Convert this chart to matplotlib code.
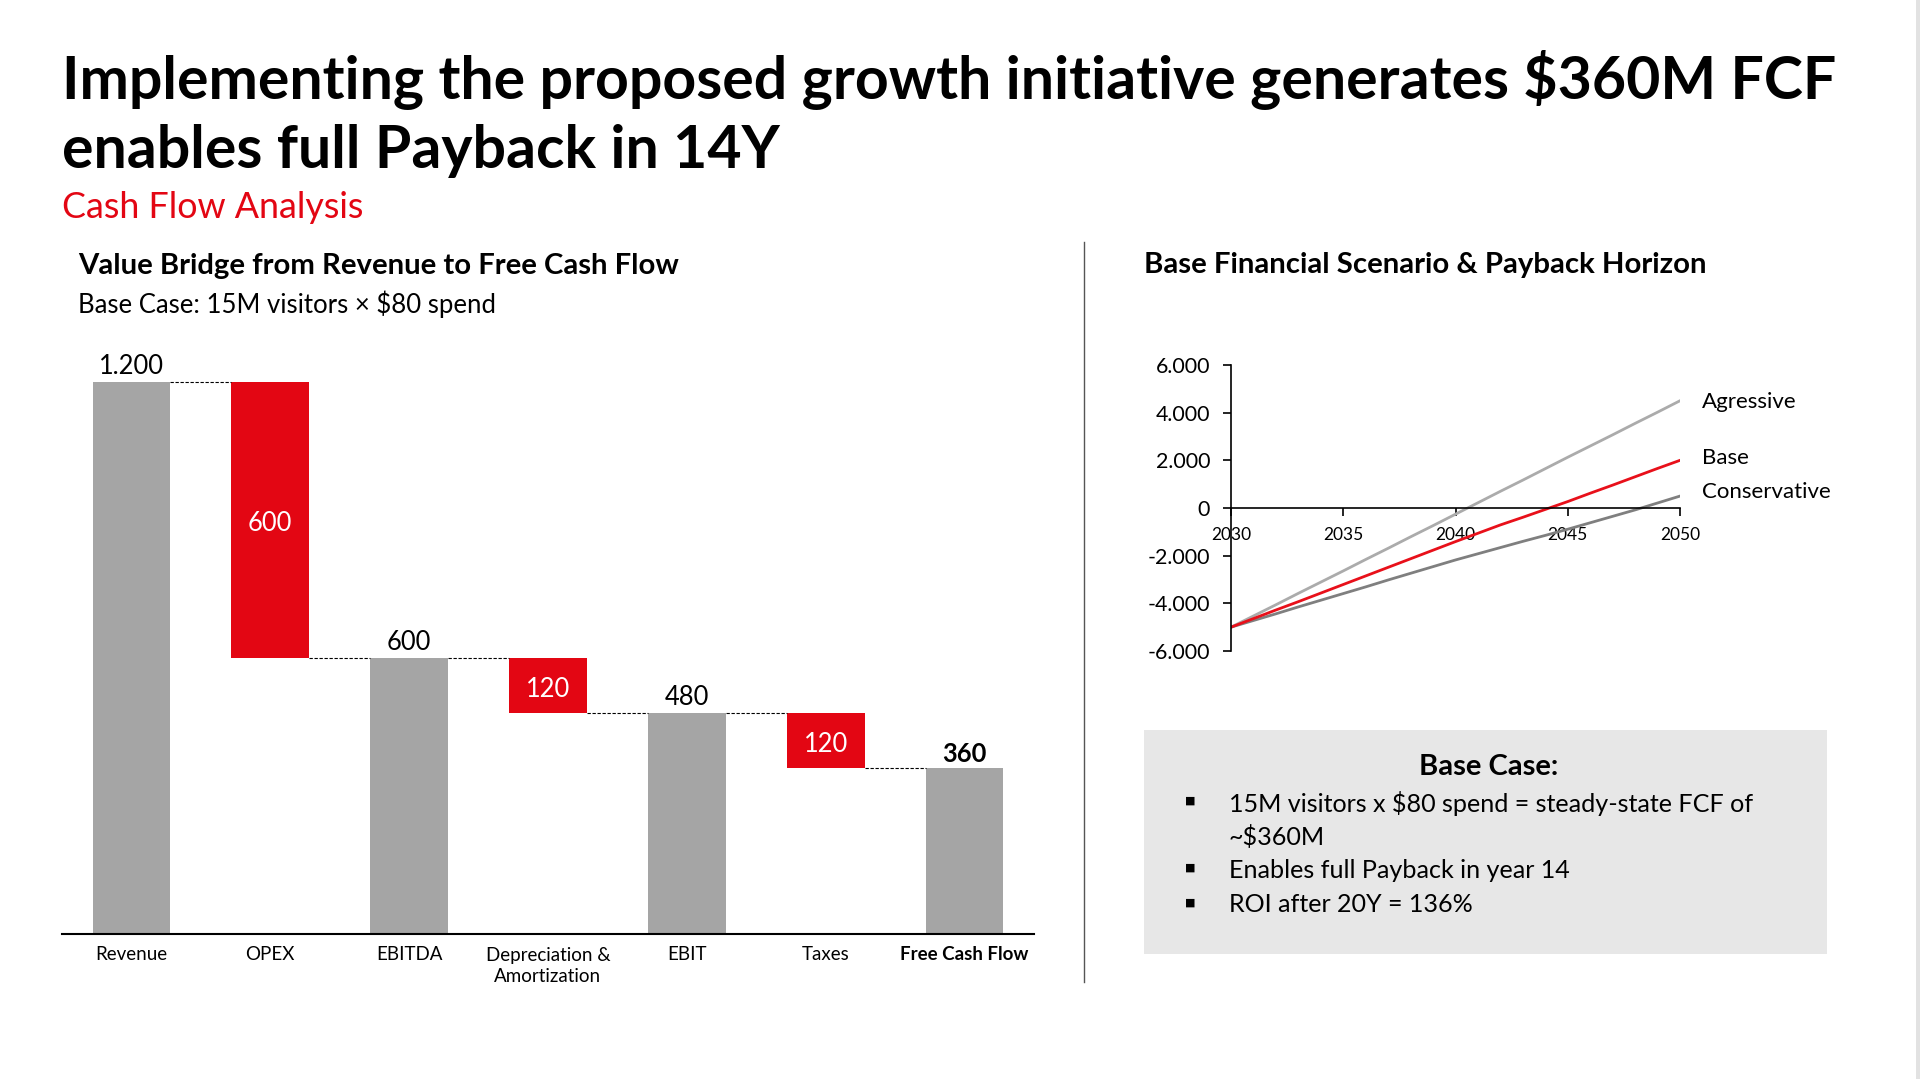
import matplotlib
matplotlib.use("Agg")
import matplotlib.pyplot as plt
from matplotlib.patches import Rectangle

plt.rcParams['font.family'] = ['Lato', 'DejaVu Sans']

# waterfall data
steps = ["Revenue", "OPEX", "EBITDA", "Depreciation &\nAmortization", "EBIT", "Taxes", "Free Cash Flow"]
step_values = [1200, -600, 600, -120, 480, -120, 360]
is_total = [True, False, True, False, True, False, True]

# payback scenarios (cumulative FCF)
years = list(range(2030, 2051))
aggressive = [-5000, -4530, -4060, -3580, -3110, -2640, -2160, -1690, -1210, -740, -260,
              220, 700, 1170, 1650, 2130, 2600, 3070, 3550, 4020, 4500]
base = [-5000, -4640, -4280, -3930, -3570, -3210, -2850, -2490, -2130, -1770, -1410,
        -1060, -710, -390, -60, 270, 620, 960, 1310, 1660, 2000]
conservative = [-5000, -4720, -4440, -4150, -3870, -3590, -3310, -3020, -2740, -2460, -2180,
                -1920, -1660, -1400, -1150, -890, -620, -350, -80, 210, 500]
y_ticks = [-6000, -4000, -2000, 0, 2000, 4000, 6000]
x_ticks = [2030, 2035, 2040, 2045, 2050]

bullet_lines = ["15M visitors x $80 spend = steady-state FCF of", "~$360M",
                "Enables full Payback in year 14", "ROI after 20Y = 136%"]
bullet_start = [True, False, True, True]

GREY = "#A5A5A5"
RED = "#E30613"
W, H = 1920, 1079


def fx(px):
    return px / W


def fy(py):
    return 1 - py / H


def fmt(v):
    return f"{v:,.0f}".replace(",", ".")


fig = plt.figure(figsize=(19.2, 10.79), dpi=100)
fig.patch.set_facecolor("white")

fig.text(fx(62), fy(80), "Implementing the proposed growth initiative generates $360M FCF",
         fontsize=42.5, fontweight="bold", va="center")
fig.text(fx(62), fy(151), "enables full Payback in 14Y", fontsize=42.5, fontweight="bold", va="center")
fig.text(fx(62), fy(207), "Cash Flow Analysis", fontsize=25.8, color=RED, va="center")

fig.text(fx(78), fy(266), "Value Bridge from Revenue to Free Cash Flow", fontsize=21.1,
         fontweight="bold", va="center")
fig.text(fx(78), fy(304), "Base Case: 15M visitors \u00d7 $80 spend", fontsize=18.5, va="center")

fig.text(fx(1144), fy(265), "Base Financial Scenario & Payback Horizon", fontsize=21.2,
         fontweight="bold", va="center")

# divider
fig.add_artist(plt.Line2D([fx(1084), fx(1084)], [fy(242), fy(982)], color="#555555", lw=1))
# right edge strip
fig.add_artist(Rectangle((fx(1916), 0), fx(4), 1, color="#E2E2E2", lw=0))

# ---- waterfall
ax = fig.add_axes([fx(62), fy(934), fx(1034 - 62), fy(334) - fy(934)])
running = 0
bottoms, heights, levels = [], [], []
for v, tot in zip(step_values, is_total):
    if tot:
        bottoms.append(0)
        heights.append(v)
        running = v
    else:
        new = running + v
        bottoms.append(min(running, new))
        heights.append(abs(v))
        running = new
    levels.append(running)

x = list(range(len(steps)))
colors = [GREY if t else RED for t in is_total]
ax.bar(x, heights, bottom=bottoms, width=0.56, color=colors)
for i in range(len(steps) - 1):
    ax.plot([i + 0.28, i + 1 - 0.28], [levels[i], levels[i]], color="black", lw=0.8,
            ls=(0, (3, 1.5)))
for i, (v, tot) in enumerate(zip(step_values, is_total)):
    if tot:
        ax.text(i, bottoms[i] + heights[i] + 6, fmt(abs(v)), ha="center", va="bottom",
                fontsize=18.4, fontweight="bold" if i == len(steps) - 1 else "normal")
    else:
        ax.text(i, bottoms[i] + heights[i] / 2 - 8, fmt(abs(v)), ha="center", va="center",
                fontsize=18.4, color="white")
ax.set_xlim(-0.5, 6.5)
ax.set_ylim(0, 1304)
ax.set_xticks(x)
ax.set_xticklabels(steps, fontsize=13.5, linespacing=1.3)
ax.get_xticklabels()[-1].set_fontweight("bold")
ax.tick_params(axis="x", length=0, pad=9)
ax.set_yticks([])
for s in ["top", "right", "left"]:
    ax.spines[s].set_visible(False)
ax.spines["bottom"].set_linewidth(1.5)

# ---- payback lines
ax2 = fig.add_axes([fx(1231), fy(651), fx(1680 - 1231), fy(365) - fy(651)])
ax2.plot(years, aggressive, color="#ABABAB", lw=2)
ax2.plot(years, conservative, color="#7F7F7F", lw=2)
ax2.plot(years, base, color="#E8101A", lw=2)
ax2.set_xlim(2030, 2050)
ax2.set_ylim(-6000, 6000)
ax2.set_xticks(x_ticks)
ax2.set_yticks(y_ticks)
ax2.set_yticklabels([fmt(v) for v in y_ticks])
ax2.spines["bottom"].set_position(("data", 0))
for s in ["top", "right"]:
    ax2.spines[s].set_visible(False)
ax2.spines["left"].set_linewidth(1.2)
ax2.spines["bottom"].set_linewidth(1.2)
ax2.tick_params(axis="y", labelsize=15.4, length=6, width=1.2, pad=9)
ax2.tick_params(axis="x", labelsize=12.5, length=6, width=1.2, pad=8)

fig.text(fx(1702), fy(402), "Agressive", fontsize=16, va="center")
fig.text(fx(1702), fy(458), "Base", fontsize=16, va="center")
fig.text(fx(1702), fy(492), "Conservative", fontsize=16, va="center")

# ---- base case box
fig.add_artist(Rectangle((fx(1144), fy(954)), fx(1827 - 1144), fy(730) - fy(954),
                         color="#E7E7E7", lw=0))
fig.text(fx(1489), fy(767), "Base Case:", fontsize=21, fontweight="bold", ha="center", va="center")
line_y = [803, 837, 870, 905]
for yy, line, start in zip(line_y, bullet_lines, bullet_start):
    if start:
        fig.text(fx(1190), fy(yy - 2), "\u25a0", fontsize=8, ha="center", va="center",
                 family="DejaVu Sans")
    fig.text(fx(1229), fy(yy), line, fontsize=18.1, va="center")

fig.savefig("out.png", dpi=100)
